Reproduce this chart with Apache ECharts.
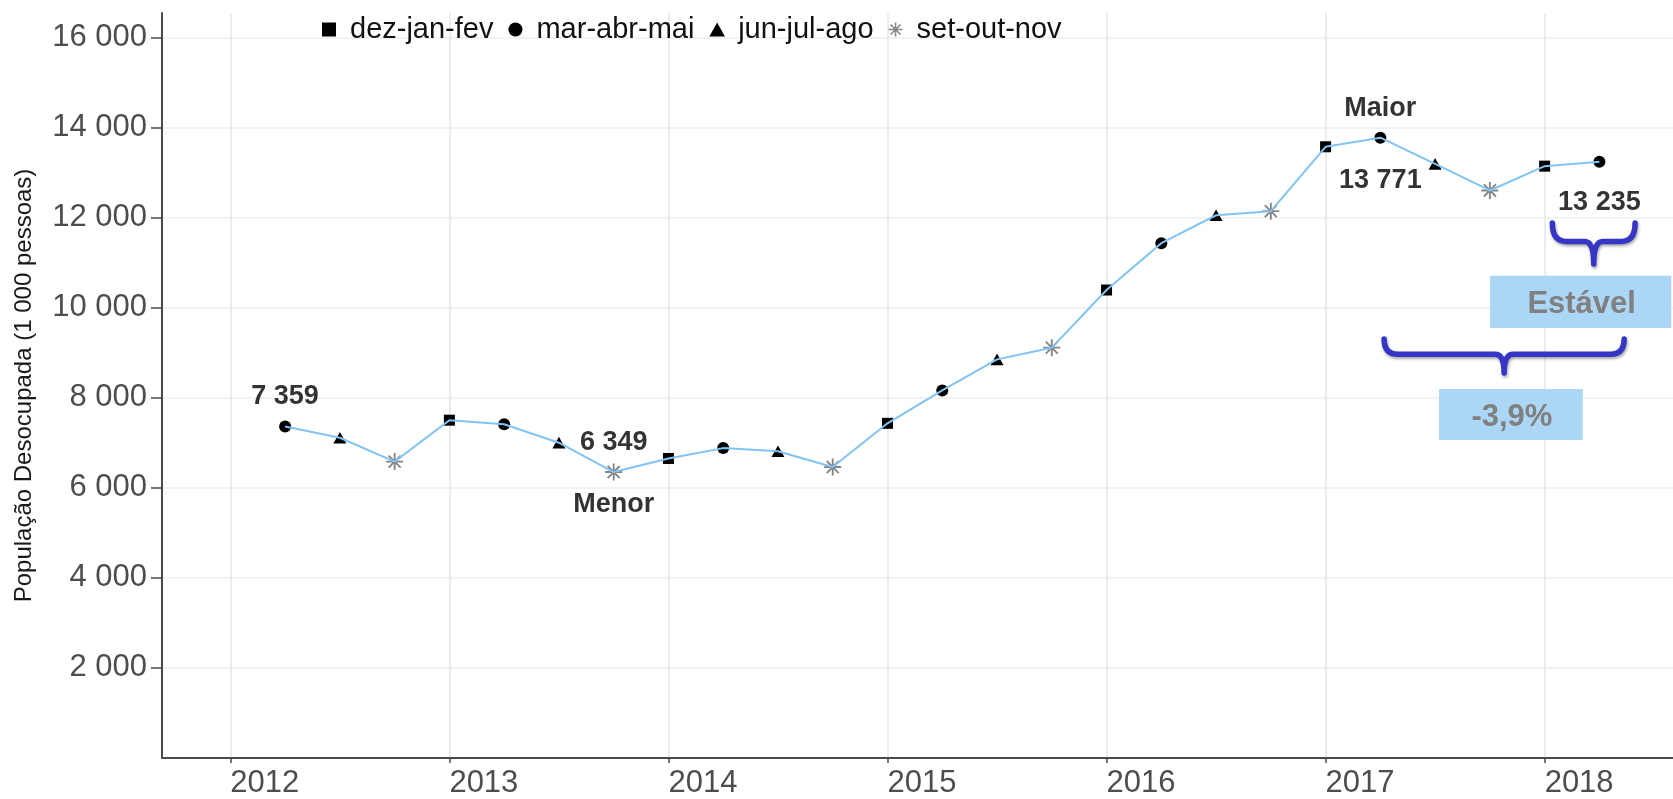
<!DOCTYPE html>
<html><head><meta charset="utf-8">
<script src="https://cdn.jsdelivr.net/npm/echarts@6/dist/echarts.min.js"></script>
<style>html,body{margin:0;padding:0;background:#fff}#c{width:1673px;height:799px}</style>
</head><body><div id="c"></div>
<script>
// ---- data ----
const periods = [2012.25, 2012.5, 2012.75, 2013, 2013.25, 2013.5, 2013.75, 2014, 2014.25, 2014.5, 2014.75,
  2015, 2015.25, 2015.5, 2015.75, 2016, 2016.25, 2016.5, 2016.75, 2017, 2017.25, 2017.5, 2017.75, 2018, 2018.25];
const seasons = ['mar-abr-mai','jun-jul-ago','set-out-nov',
  'dez-jan-fev','mar-abr-mai','jun-jul-ago','set-out-nov',
  'dez-jan-fev','mar-abr-mai','jun-jul-ago','set-out-nov',
  'dez-jan-fev','mar-abr-mai','jun-jul-ago','set-out-nov',
  'dez-jan-fev','mar-abr-mai','jun-jul-ago','set-out-nov',
  'dez-jan-fev','mar-abr-mai','jun-jul-ago','set-out-nov',
  'dez-jan-fev','mar-abr-mai'];
const values = [7359, 7110, 6580, 7500, 7410, 7000, 6349, 6650, 6880, 6810, 6460,
  7430, 8160, 8850, 9110, 10390, 11430, 12050, 12140, 13570, 13771, 13190, 12600, 13140, 13235];
const seasonNames = ['dez-jan-fev', 'mar-abr-mai', 'jun-jul-ago', 'set-out-nov'];
const yearTicks = [2012, 2013, 2014, 2015, 2016, 2017, 2018];
const valueTicks = [2000, 4000, 6000, 8000, 10000, 12000, 14000, 16000];
const yTitle = 'População Desocupada (1 000 pessoas)';
// annotations (index of point, text; null = the value itself)
const labelsAbove = [[0, null], [6, null], [20, 'Maior']];
const labelsBelow = [[6, 'Menor'], [20, null], [24, null]];
// braces: [x start, x end, y of ends, y of tip] in data units
const braces = [[2018.035, 2018.413, 11876, 10966], [2017.267, 2018.363, 9301, 8546]];
// boxes: [x0, x1, yTop, yBottom] in data units, and their texts
const boxes = [[2017.751, 2018.578, 10708, 9545], [2017.518, 2018.174, 8191, 7059]];
const boxTexts = ['Estável', '-3,9%'];

// ---- chart ----
const FONT = '"Liberation Sans", Arial, Helvetica, sans-serif';
const fmt = v => String(Math.round(v)).replace(/\B(?=(\d{3})+(?!\d))/g, ' ');
const square = 'path://M0,0L10,0L10,10L0,10Z';
const triangle = 'path://M5,0L10,9L0,9Z';
const asterisk = 'path://M-1.1,-10L1.1,-10L1.1,10L-1.1,10Z M-10,-1.1L10,-1.1L10,1.1L-10,1.1Z ' +
  'M6.293,-7.849L7.849,-6.293L-6.293,7.849L-7.849,6.293Z M-7.849,-6.293L-6.293,-7.849L7.849,6.293L6.293,7.849Z';
const symbolOf = {
  'dez-jan-fev': [square, 11, '#000'],
  'mar-abr-mai': ['circle', 12, '#000'],
  'jun-jul-ago': [triangle, 13, '#000'],
  'set-out-nov': [asterisk, 17, '#858585']
};
const belowDist = {6: 19, 20: 29, 24: 27};

const seasonSeries = seasonNames.map(name => ({
  name, type: 'scatter', z: 2,
  symbol: symbolOf[name][0], symbolSize: symbolOf[name][1], symbolKeepAspect: true,
  itemStyle: { color: symbolOf[name][2], opacity: 1 },
  data: periods.map((x, i) => seasons[i] === name ? [x, values[i]] : null).filter(d => d)
}));

const labelBase = { show: true, fontFamily: FONT, fontWeight: 'bold', fontSize: 27, color: '#000' };

const option = {
  animation: false,
  backgroundColor: '#fff',
  grid: { left: 162, right: 0, top: 13, bottom: 41, containLabel: false },
  legend: {
    data: seasonNames, left: 317, top: 10, itemWidth: 32, itemHeight: 14, itemGap: 15,
    symbolKeepAspect: true,
    textStyle: { fontFamily: FONT, fontSize: 29, color: '#111' }
  },
  xAxis: {
    type: 'value', min: 2011.688, max: 2018.586,
    axisLine: { show: true, onZero: false, lineStyle: { color: '#4a4a4a', width: 2 } },
    axisTick: { show: true, length: 5, customValues: yearTicks, lineStyle: { color: '#4a4a4a', width: 1.5 } },
    axisLabel: { customValues: yearTicks, formatter: v => String(Math.round(v)), align: 'left',
      fontFamily: FONT, fontSize: 31, color: '#4d4d4d', margin: 10 },
    splitLine: { show: true, lineStyle: { color: '#e6e6e6', width: 1.5 } }
  },
  yAxis: {
    type: 'value', min: 0, max: 16540,
    name: yTitle, nameLocation: 'middle', nameGap: 126,
    nameTextStyle: { fontFamily: FONT, fontSize: 24, color: '#1a1a1a' },
    axisLine: { show: true, lineStyle: { color: '#4a4a4a', width: 2 } },
    axisTick: { show: true, length: 11, customValues: valueTicks, lineStyle: { color: '#4a4a4a', width: 1.5 } },
    axisLabel: { customValues: valueTicks, formatter: fmt, fontFamily: FONT, fontSize: 31, color: '#4d4d4d', margin: 15 },
    splitLine: { show: true, lineStyle: { color: '#eeeeee', width: 1.5 } }
  },
  series: [
    {
      name: 'linha', type: 'line', z: 3, symbol: 'none',
      lineStyle: { color: '#80c4f6', width: 2 },
      data: periods.map((x, i) => [x, values[i]])
    },
    ...seasonSeries,
    {
      name: 'acima', type: 'scatter', z: 4, symbolSize: 0.1, itemStyle: { color: 'transparent' }, silent: true,
      label: Object.assign({}, labelBase, { position: 'top', distance: 16 }),
      data: labelsAbove.map(([i, t]) => ({ value: [periods[i], values[i]], label: { formatter: t == null ? fmt(values[i]) : t } }))
    },
    {
      name: 'abaixo', type: 'scatter', z: 4, symbolSize: 0.1, itemStyle: { color: 'transparent' }, silent: true,
      label: Object.assign({}, labelBase, { position: 'bottom' }),
      data: labelsBelow.map(([i, t]) => ({ value: [periods[i], values[i]],
        label: { formatter: t == null ? fmt(values[i]) : t, distance: belowDist[i] } }))
    },
    {
      name: 'caixas', type: 'custom', z: 5, silent: true, clip: false,
      encode: { x: [0, 1], y: [2, 3] },
      data: boxes,
      renderItem(params, api) {
        const p0 = api.coord([api.value(0), api.value(2)]);
        const p1 = api.coord([api.value(1), api.value(3)]);
        return {
          type: 'group', children: [
            { type: 'rect', shape: { x: p0[0], y: p0[1], width: p1[0] - p0[0], height: p1[1] - p0[1] },
              style: { fill: '#acd6f6' } },
            { type: 'text', x: (p0[0] + p1[0]) / 2 + 1, y: (p0[1] + p1[1]) / 2 + 3,
              style: { text: boxTexts[params.dataIndex], fill: '#808080',
                font: 'bold 31px ' + FONT, align: 'center', verticalAlign: 'middle' } }
          ]
        };
      }
    },
    {
      name: 'chaves', type: 'custom', z: 6, silent: true, clip: false,
      encode: { x: [0, 1], y: [2, 3] },
      data: braces,
      renderItem(params, api) {
        const p0 = api.coord([api.value(0), api.value(2)]);
        const p1 = api.coord([api.value(1), api.value(3)]);
        const x0 = p0[0], x1 = p1[0], yt = p0[1], yb = p1[1];
        const yBar = yt + (yb - yt) * 0.45;
        const xc = (x0 + x1) / 2;
        const r = Math.min(yBar - yt, 14);
        const r2 = Math.min(yb - yBar, 9);
        const d = `M${x0},${yt} Q${x0},${yBar} ${x0 + r},${yBar} L${xc - r2},${yBar} Q${xc},${yBar} ${xc},${yb} ` +
          `Q${xc},${yBar} ${xc + r2},${yBar} L${x1 - r},${yBar} Q${x1},${yBar} ${x1},${yt}`;
        return {
          type: 'path', shape: { pathData: d },
          style: { stroke: '#3535c6', lineWidth: 5.5, fill: null, lineCap: 'round', lineJoin: 'round',
            shadowBlur: 3, shadowColor: 'rgba(0,0,0,0.35)', shadowOffsetX: 1, shadowOffsetY: 2 }
        };
      }
    }
  ]
};
const chart = echarts.init(document.getElementById('c'), null, { renderer: 'canvas' });
chart.setOption(option);
</script></body></html>
